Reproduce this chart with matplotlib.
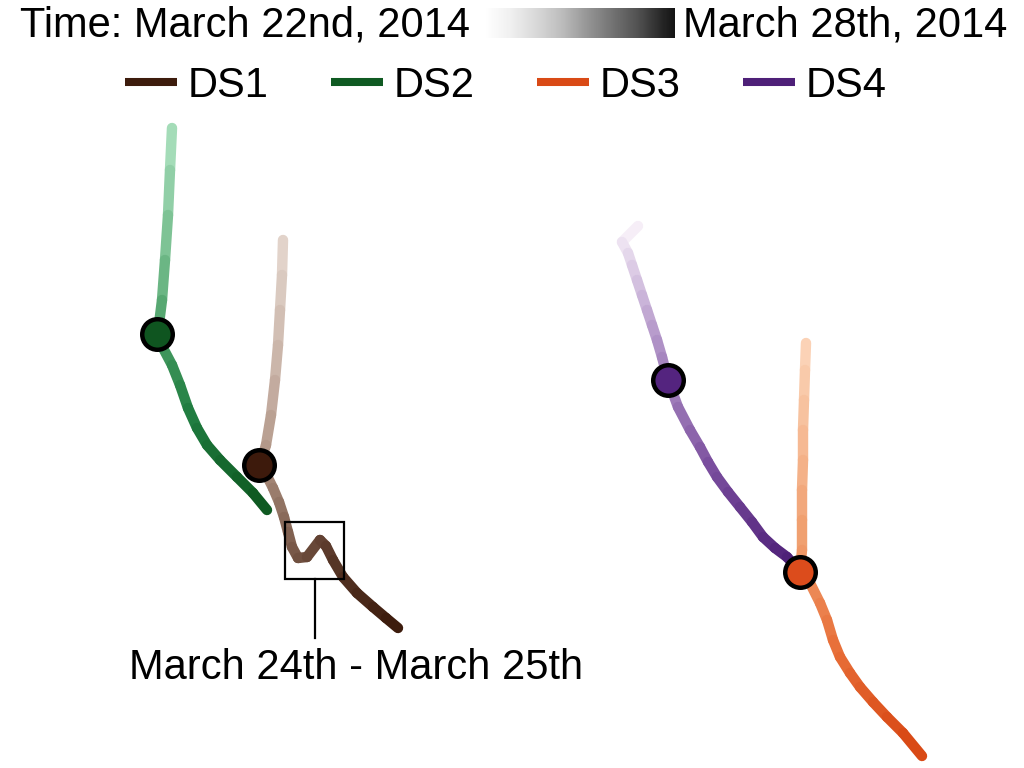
import numpy as np
import matplotlib
matplotlib.use("Agg")
import matplotlib.pyplot as plt
from matplotlib.collections import LineCollection
from matplotlib.lines import Line2D
from matplotlib.patches import Rectangle
from matplotlib.colors import LinearSegmentedColormap

plt.rcParams['font.family'] = ['Liberation Sans', 'DejaVu Sans']

# ---- data (positions, in the chart's own x/y units) ----
series_names = ["DS1", "DS2", "DS3", "DS4"]

ds1_x = [283, 282, 280, 278, 275, 271, 266, 260, 267, 273, 279, 284, 288, 292, 298, 307, 320, 326, 333, 343, 357, 373, 386, 398]
ds1_y = [240, 275, 310, 345, 380, 415, 445, 465, 476, 488, 502, 517, 532, 547, 558, 557, 540, 546, 560, 577, 593, 607, 618, 628]

ds2_x = [172, 170, 168, 165, 162, 158, 163, 172, 180, 188, 197, 207, 220, 237, 253, 267]
ds2_y = [128, 170, 215, 260, 300, 332, 348, 365, 385, 408, 428, 445, 460, 477, 493, 510]

ds3_x = [806, 805, 804, 803, 803, 802, 802, 802, 800, 810, 820, 827, 833, 840, 850, 860, 873, 887, 903, 922]
ds3_y = [343, 370, 400, 430, 460, 490, 520, 550, 572, 583, 603, 620, 640, 657, 673, 687, 702, 717, 733, 756]

ds4_x = [638, 622, 628, 632, 637, 642, 647, 652, 657, 662, 668, 678, 690, 700, 708, 717, 728, 740, 752, 763, 775, 787, 799]
ds4_y = [226, 242, 253, 265, 280, 295, 310, 325, 340, 357, 380, 407, 430, 447, 462, 477, 492, 507, 522, 537, 548, 557, 570]

marker_x = [259, 157, 800, 668]
marker_y = [465, 334, 572, 380]

colors = ["#3d1c0d", "#0f5a22", "#d94a16", "#4e2078"]
marker_colors = ["#3d1a0c", "#0f5520", "#dc4c1c", "#54247f"]
gradients = [
    ["#e2d3ca", "#a88a7a", "#6a4a3a", "#3d1c0d"],
    ["#a4dcb8", "#4aa066", "#1e7a3e", "#0f5a22"],
    ["#fbd2b6", "#f0a070", "#e8703a", "#d94a16"],
    ["#f6eef7", "#b89ccc", "#7a4e9e", "#4e2078"],
]

time_start = "March 22nd, 2014"
time_end = "March 28th, 2014"
annotation = "March 24th - March 25th"
box_x, box_y, box_w, box_h = 285, 522, 59, 57

# ---- figure ----
fig = plt.figure(figsize=(10.24, 7.68), dpi=100)
ax = fig.add_axes([0, 0, 1, 1])
ax.set_xlim(0, 1024)
ax.set_ylim(768, 0)
ax.axis("off")

xs = [ds1_x, ds2_x, ds3_x, ds4_x]
ys = [ds1_y, ds2_y, ds3_y, ds4_y]
for x, y, grad in zip(xs, ys, gradients):
    pts = np.column_stack([x, y])
    segs = np.stack([pts[:-1], pts[1:]], axis=1)
    cmap = LinearSegmentedColormap.from_list("g", grad)
    t = np.linspace(0, 1, len(segs))
    lc = LineCollection(segs, colors=cmap(t), linewidths=7.5, capstyle="round",
                        joinstyle="round", zorder=2)
    ax.add_collection(lc)

for mx, my, col in zip(marker_x, marker_y, marker_colors):
    ax.plot([mx], [my], "o", ms=22, mfc=col, mec="black", mew=3.2, zorder=5)

# annotation box and pointer
ax.add_patch(Rectangle((box_x, box_y), box_w, box_h, fill=False, ec="black", lw=1.6, zorder=6))
ax.plot([box_x + box_w / 2, box_x + box_w / 2], [box_y + box_h, 638], color="black", lw=1.6, zorder=6)
ax.text(356, 668, annotation, ha="center", va="center", fontsize=30)

# time colorbar
fig.text(470 / 1024, 1 - 25 / 768, "Time: " + time_start, ha="right", va="center", fontsize=30)
fig.text(683 / 1024, 1 - 25 / 768, time_end, ha="left", va="center", fontsize=30)
cax = fig.add_axes([485 / 1024, 1 - 38 / 768, 190 / 1024, 30 / 768])
grad_img = np.linspace(0.0, 0.93, 256).reshape(1, -1)
cax.imshow(grad_img, aspect="auto", cmap="Greys", vmin=0, vmax=1)
cax.axis("off")

# legend
handles = [Line2D([0], [0], color=c, lw=5.8, solid_capstyle="butt") for c in colors]
fig.legend(handles, series_names, loc="center", bbox_to_anchor=(506 / 1024, 1 - 86 / 768),
           ncol=4, frameon=False, fontsize=30, handlelength=1.25, handletextpad=0.25,
           columnspacing=1.5)

fig.savefig("out.png", dpi=100)
